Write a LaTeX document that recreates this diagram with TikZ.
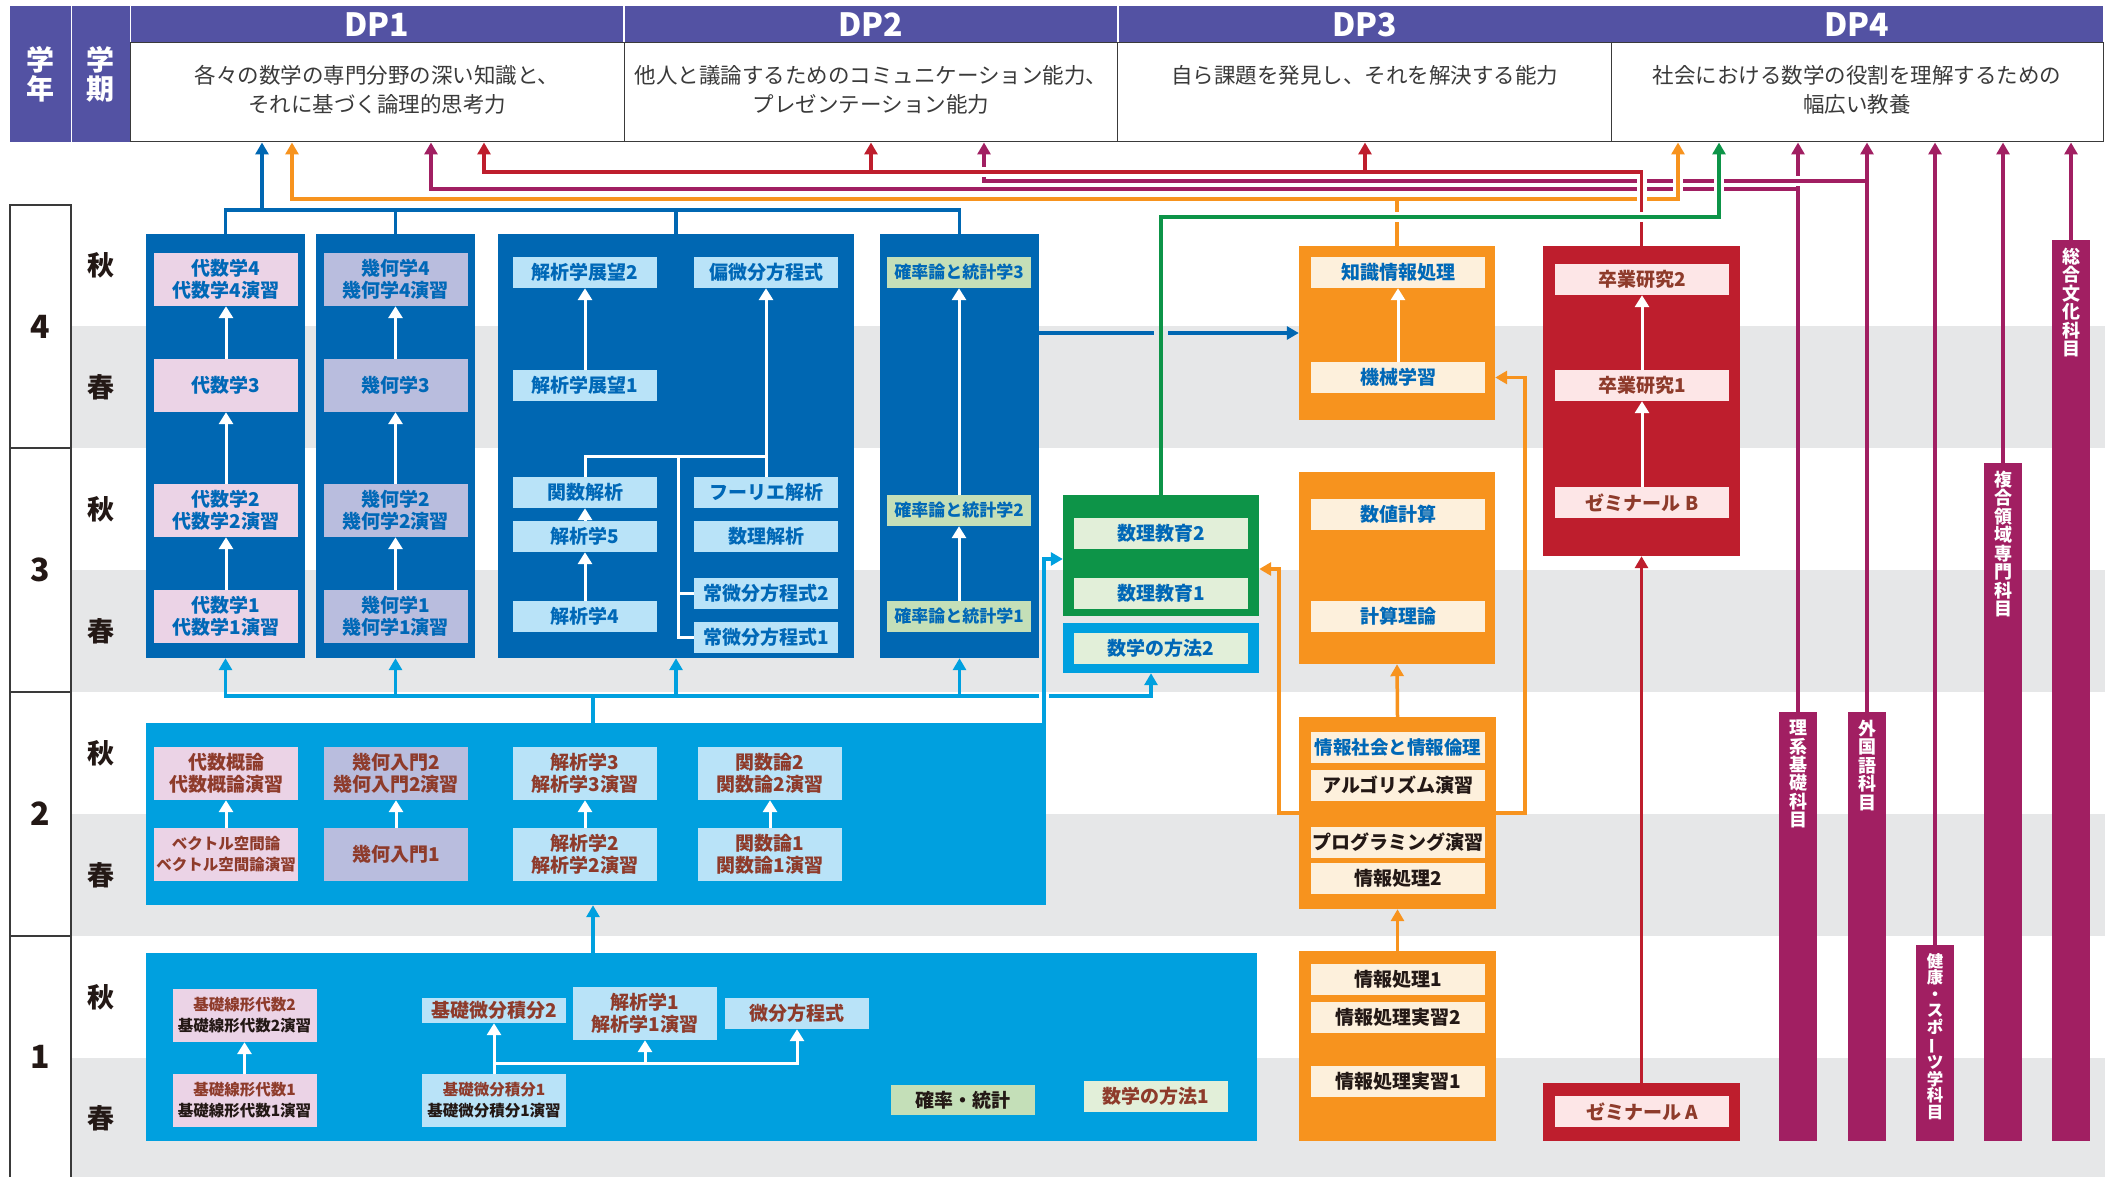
\documentclass[tikz,border=0pt]{standalone}
\usepackage{fontspec}
\setmainfont{Noto Sans CJK JP}
\usepackage{graphicx}
\usetikzlibrary{arrows.meta}

\definecolor{hdr}{HTML}{5352A3}
\definecolor{band}{HTML}{E6E7E8}
\definecolor{dkb}{HTML}{0067B2}
\definecolor{ltb}{HTML}{00A0DF}
\definecolor{grn}{HTML}{0D9448}
\definecolor{org}{HTML}{F7931E}
\definecolor{rdd}{HTML}{BE1E2D}
\definecolor{pur}{HTML}{A11F62}
\definecolor{fpk}{HTML}{EBD3E6}
\definecolor{flv}{HTML}{B9BDDE}
\definecolor{flb}{HTML}{B9E3F8}
\definecolor{fgr}{HTML}{C4DFB8}
\definecolor{fpg}{HTML}{E2EFD9}
\definecolor{fcr}{HTML}{FDF0DC}
\definecolor{frs}{HTML}{FDE6E7}
\definecolor{tbl}{HTML}{0068B7}
\definecolor{tbr}{HTML}{8E3B2B}
\definecolor{tbk}{HTML}{231815}
\definecolor{tgy}{HTML}{3A3A3A}

\begin{document}
\begin{tikzpicture}[x=1pt,y=-1pt,
   >={Triangle[length=12pt,width=13pt]},
   nd/.style={rectangle,inner sep=0pt,minimum width=144pt,minimum height=31pt,
    align=center,font=\bfseries\fontsize{19}{22}\selectfont},
   tall/.style={minimum height=53pt},
   wide/.style={minimum width=174pt},
   small/.style={font=\bfseries\fontsize{15.5}{21}\selectfont},
   pk/.style={nd,fill=fpk},
   lv/.style={nd,fill=flv},
   lb/.style={nd,fill=flb},
   gr/.style={nd,fill=fgr,font=\bfseries\fontsize{17}{22}\selectfont},
   pg/.style={nd,wide,fill=fpg,text=tbl},
   cr/.style={nd,wide,fill=fcr},
   rs/.style={nd,wide,fill=frs,text=tbr},
   cont/.style={rectangle,inner sep=0pt,fill=#1},
   bar/.style={rectangle,inner sep=0pt,minimum width=38pt,fill=pur},
   vtx/.style={inner sep=0pt,align=center,text=white,font=\bfseries\fontsize{18}{18.4}\selectfont},
   wa/.style={draw=white,line width=3pt,-{Triangle[length=12pt,width=14pt]}},
   wl/.style={draw=white,line width=3pt},
   wire/.style={line width=3.5pt,draw=#1},
   bridge/.style={preaction={draw=white,line width=10pt,-}},
   yrline/.style={draw=tgy,line width=1.2pt},
   yr/.style={font=\bfseries\fontsize{32}{32}\selectfont,text=tbk},
   tm/.style={font=\bfseries\fontsize{27}{27}\selectfont,text=tbk},
   hcell/.style={rectangle,inner sep=0pt,minimum height=136pt,fill=hdr,text=white,
    align=center,font=\bfseries\fontsize{28}{29}\selectfont},
   dphd/.style={rectangle,inner sep=0pt,minimum width=492pt,minimum height=37pt,
    fill=hdr,text=white,font=\bfseries\fontsize{32}{32}\selectfont},
   dpds/.style={rectangle,inner sep=0pt,minimum width=494pt,minimum height=99pt,
    draw=tgy,line width=1pt,fill=white,align=center,text=tgy,font=\fontsize{21.5}{29}\selectfont}
    ]

  \useasboundingbox (0,0) rectangle (2112,1177);
  \fill[white] (0,0) rectangle (2112,1177);

  % -- spring bands
  \fill[band] (71,326) rectangle (2105,448);
  \fill[band] (71,570) rectangle (2105,692);
  \fill[band] (71,814) rectangle (2105,936);
  \fill[band] (71,1058) rectangle (2105,1177);

  % -- header
  \node[hcell,minimum width=60.5pt] at (40.25,74) (hy) {学\\年};
  \node[hcell,minimum width=58.5pt] at (100.75,74) (hs) {学\\期};
  \node[dphd] at (377,24.5) (h1) {DP1};
  \node[dphd] at (871,24.5) (h2) {DP2};
  \node[dphd] at (1364.5,24.5) (h3) {DP3};
  \node[dphd] at (1857,24.5) (h4) {DP4};
  \node[dpds,text depth=8pt] at (377,92.5) (d1) {各々の数学の専門分野の深い知識と、\\それに基づく論理的思考力};
  \node[dpds,text depth=8pt] at (871,92.5) (d2) {他人と議論するためのコミュニケーション能力、\\プレゼンテーション能力};
  \node[dpds,text depth=8pt] at (1364.5,92.5) (d3) {自ら課題を発見し、それを解決する能力\\\mbox{}};
  \node[dpds,text depth=8pt,minimum width=492pt] at (1857,92.5) (d4) {社会における数学の役割を理解するための\\幅広い教養};

  % -- year and term column
  \draw[yrline] (10,1177) -- (10,205) -- (71,205) -- (71,1177);
  \draw[yrline] (10,448) -- (71,448);
  \draw[yrline] (10,692) -- (71,692);
  \draw[yrline] (10,936) -- (71,936);
  \node[yr] at (40.5,326.5) (y4) {4};
  \node[yr] at (40.5,570) (y3) {3};
  \node[yr] at (40.5,814) (y2n) {2};
  \node[yr] at (40.5,1057) (y1n) {1};
  \node[tm] at (101,265.5) (s4a) {秋};
  \node[tm] at (101,387.5) (s4s) {春};
  \node[tm] at (101,509.5) (s3a) {秋};
  \node[tm] at (101,631.5) (s3s) {春};
  \node[tm] at (101,753.5) (s2a) {秋};
  \node[tm] at (101,875.5) (s2s) {春};
  \node[tm] at (101,997.5) (s1a) {秋};
  \node[tm] at (101,1118.5) (s1s) {春};

  % -- containers
  \node[cont=dkb,minimum width=159pt,minimum height=424pt] at (225.5,446) (alg) {};
  \node[cont=dkb,minimum width=159pt,minimum height=424pt] at (395.5,446) (geo) {};
  \node[cont=dkb,minimum width=356pt,minimum height=424pt] at (676,446) (ana) {};
  \node[cont=dkb,minimum width=159pt,minimum height=424pt] at (959.5,446) (prb) {};
  \node[cont=ltb,minimum width=900pt,minimum height=182pt] at (596,814) (y2) {};
  \node[cont=ltb,minimum width=1111pt,minimum height=188pt] at (701.5,1047) (y1) {};
  \node[cont=grn,minimum width=196pt,minimum height=121pt] at (1161,555.5) (gbox) {};
  \node[cont=ltb,minimum width=196pt,minimum height=50pt] at (1161,648) (mbox) {};
  \node[cont=org,minimum width=196pt,minimum height=174pt] at (1397,333) (ob1) {};
  \node[cont=org,minimum width=196pt,minimum height=192pt] at (1397,568) (ob2) {};
  \node[cont=org,minimum width=197pt,minimum height=192pt] at (1397.5,813) (ob3) {};
  \node[cont=org,minimum width=197pt,minimum height=190pt] at (1397.5,1046) (ob4) {};
  \node[cont=rdd,minimum width=197pt,minimum height=310pt] at (1641.5,401) (rb1) {};
  \node[cont=rdd,minimum width=197pt,minimum height=58pt] at (1641.5,1112) (rb2) {};

  % -- purple bars
  \node[bar,minimum height=429pt] at (1798,926.5) (b1) {};
  \node[bar,minimum height=429pt] at (1867,926.5) (b2) {};
  \node[bar,minimum height=196pt] at (1935,1043) (b3) {};
  \node[bar,minimum height=678pt] at (2003,802) (b4) {};
  \node[bar,minimum height=901pt] at (2071,690.5) (b5) {};
  \node[vtx,anchor=north] at ([yshift=-8pt]b1.north) (b1t) {理\\系\\基\\礎\\科\\目};
  \node[vtx,anchor=north] at ([yshift=-8pt]b2.north) (b2t) {外\\国\\語\\科\\目};
  \node[vtx,anchor=north,font=\bfseries\fontsize{16.5}{16.6}\selectfont] at ([yshift=-8pt]b3.north) (b3t)
    {健\\康\\・\\ス\\ポ\\\rotatebox[origin=c]{90}{ー}\\ツ\\学\\科\\目};
  \node[vtx,anchor=north,font=\bfseries\fontsize{18}{18.5}\selectfont] at ([yshift=-8pt]b4.north) (b4t)
    {複\\合\\領\\域\\専\\門\\科\\目};
  \node[vtx,anchor=north,font=\bfseries\fontsize{18}{18.5}\selectfont] at ([yshift=-8pt]b5.north) (b5t)
    {総\\合\\文\\化\\科\\目};

  % -- year 3 and 4
  \node[pk,tall,text=tbl] at (226,279.5) (a4) {代数学4\\代数学4演習};
  \node[pk,tall,text=tbl] at (226,385.5) (a3) {代数学3};
  \node[pk,tall,text=tbl] at (226,510.5) (a2) {代数学2\\代数学2演習};
  \node[pk,tall,text=tbl] at (226,616.5) (a1) {代数学1\\代数学1演習};
  \node[lv,tall,text=tbl] at (395.5,279.5) (g4) {幾何学4\\幾何学4演習};
  \node[lv,tall,text=tbl] at (395.5,385.5) (g3) {幾何学3};
  \node[lv,tall,text=tbl] at (395.5,510.5) (g2) {幾何学2\\幾何学2演習};
  \node[lv,tall,text=tbl] at (395.5,616.5) (g1) {幾何学1\\幾何学1演習};
  \node[lb,text=tbl] at (585,272.5) (ex2) {解析学展望2};
  \node[lb,text=tbl] at (585,385.5) (ex1) {解析学展望1};
  \node[lb,text=tbl] at (585,492.5) (fa) {関数解析};
  \node[lb,text=tbl] at (585,536.5) (an5) {解析学5};
  \node[lb,text=tbl] at (585,616.5) (an4) {解析学4};
  \node[lb,text=tbl] at (766,272.5) (pde) {偏微分方程式};
  \node[lb,text=tbl] at (766,492.5) (fou) {フーリエ解析};
  \node[lb,text=tbl] at (766,536.5) (mana) {数理解析};
  \node[lb,text=tbl] at (766,593.5) (ode2) {常微分方程式2};
  \node[lb,text=tbl] at (766,637.5) (ode1) {常微分方程式1};
  \node[gr,text=tbl] at (959,272.5) (p3) {確率論と統計学3};
  \node[gr,text=tbl] at (959,510.5) (p2) {確率論と統計学2};
  \node[gr,text=tbl] at (959,616.5) (p1) {確率論と統計学1};

  % -- green and orange and red
  \node[pg] at (1161,533.5) (me2) {数理教育2};
  \node[pg] at (1161,593.5) (me1) {数理教育1};
  \node[pg] at (1161,648.5) (mm2) {数学の方法2};
  \node[cr,text=tbl] at (1398,272.5) (kip) {知識情報処理};
  \node[cr,text=tbl] at (1398,377.5) (ml) {機械学習};
  \node[cr,text=tbl] at (1398,514.5) (num) {数値計算};
  \node[cr,text=tbl] at (1398,616.5) (cth) {計算理論};
  \node[cr,text=tbl,font=\bfseries\fontsize{18.5}{22}\selectfont] at (1398,747.5) (iso) {情報社会と情報倫理};
  \node[cr,text=tbk] at (1398,785.5) (aex) {アルゴリズム演習};
  \node[cr,text=tbk] at (1398,842) (pex) {プログラミング演習};
  \node[cr,text=tbk] at (1398,878.5) (ip2) {情報処理2};
  \node[cr,text=tbk] at (1398,979.5) (ip1) {情報処理1};
  \node[cr,text=tbk] at (1398,1017.5) (ie2) {情報処理実習2};
  \node[cr,text=tbk] at (1398,1081) (ie1) {情報処理実習1};
  \node[rs] at (1642,279.5) (gr2) {卒業研究2};
  \node[rs] at (1642,385.5) (gr1) {卒業研究1};
  \node[rs] at (1642,502.5) (semb) {ゼミナール B};
  \node[rs] at (1642,1111.5) (sema) {ゼミナール A};

  % -- year 2
  \node[pk,tall,text=tbr] at (226,773.5) (ai) {代数概論\\代数概論演習};
  \node[pk,tall,text=tbr,small] at (226,854.5) (vs) {ベクトル空間論\\ベクトル空間論演習};
  \node[lv,tall,text=tbr] at (396,773.5) (gi2) {幾何入門2\\幾何入門2演習};
  \node[lv,tall,text=tbr] at (396,854.5) (gi1) {幾何入門1};
  \node[lb,tall,text=tbr] at (585,773.5) (an3) {解析学3\\解析学3演習};
  \node[lb,tall,text=tbr] at (585,854.5) (an2) {解析学2\\解析学2演習};
  \node[lb,tall,text=tbr] at (770,773.5) (cf2) {関数論2\\関数論2演習};
  \node[lb,tall,text=tbr] at (770,854.5) (cf1) {関数論1\\関数論1演習};

  % -- year 1
  \node[pk,tall,text=tbr,small] at (244.5,1015.5) (la2) {基礎線形代数2\\\textcolor{tbk}{基礎線形代数2演習}};
  \node[pk,tall,text=tbr,small] at (244.5,1100.5) (la1) {基礎線形代数1\\\textcolor{tbk}{基礎線形代数1演習}};
  \node[lb,minimum height=25pt,text=tbr] at (494,1010.5) (ca2) {基礎微分積分2};
  \node[lb,tall,text=tbr] at (645,1013.5) (an1) {解析学1\\解析学1演習};
  \node[lb,text=tbr] at (797,1013.5) (de) {微分方程式};
  \node[lb,tall,text=tbr,small] at (494,1100.5) (ca1) {基礎微分積分1\\\textcolor{tbk}{基礎微分積分1演習}};
  \node[nd,fill=fgr,minimum height=30pt,text=tbk] at (962.5,1100) (ps) {確率・統計};
  \node[nd,fill=fpg,text=tbr] at (1155.5,1096.5) (mm1) {数学の方法1};

  % -- white arrows in boxes
  \draw[wa] (a1.north) -- (a2.south);
  \draw[wa] (a2.north) -- (a3.south);
  \draw[wa] (a3.north) -- (a4.south);
  \draw[wa] (g1.north) -- (g2.south);
  \draw[wa] (g2.north) -- (g3.south);
  \draw[wa] (g3.north) -- (g4.south);
  \draw[wa] (ex1.north) -- (ex2.south);
  \draw[wa] (an4.north) -- (an5.south);
  \draw[wa] (an5.north) -- (fa.south);
  \coordinate (tk) at (766,456);
  \coordinate (tj) at (678,456);
  \draw[wa] (fa.north) |- (tk) -- (pde.south);
  \draw[wl] (fou.north) -- (tk);
  \draw[wl] (tj) |- (ode1.west);
  \draw[wl] (tj |- ode2.west) -- (ode2.west);
  \draw[wa] (p1.north) -- (p2.south);
  \draw[wa] (p2.north) -- (p3.south);
  \draw[wa] (ml.north) -- (kip.south);
  \draw[wa] (semb.north) -- (gr1.south);
  \draw[wa] (gr1.north) -- (gr2.south);
  \draw[wa] (vs.north) -- (ai.south);
  \draw[wa] (gi1.north) -- (gi2.south);
  \draw[wa] (an2.north) -- (an3.south);
  \draw[wa] (cf1.north) -- (cf2.south);
  \draw[wa] (la1.north) -- (la2.south);
  \draw[wa] (ca1.north) -- (ca2.south);
  \coordinate (cb) at (494,1063);
  \draw[wa] (cb) -| (de.south);
  \draw[wa] (an1.south |- cb) -- (an1.south);

  % -- light blue links
  \coordinate (lc) at (593,696);
  \coordinate (lx) at (1044,696);
  \draw[wire=ltb] (lc |- y2.north) -- (lc);
  \draw[wire=ltb,->] ([xshift=-5pt]lx) -| (alg.south);
  \draw[wire=ltb,->] ([xshift=5pt]lx) -| ([xshift=-10pt]mbox.south);
  \draw[wire=ltb,->] (geo.south |- lc) -- (geo.south);
  \draw[wire=ltb,->] (ana.south |- lc) -- (ana.south);
  \draw[wire=ltb,->] (prb.south |- lc) -- (prb.south);
  \draw[wire=ltb,->] (lx |- y2.north) |- ([yshift=-3.5pt]gbox.west);
  \draw[wire=ltb,->] (lc |- y1.north) -- (lc |- y2.south);

  % -- orange and red links below
  \draw[wire=org,->] (ob3.north) -- (ob2.south);
  \draw[wire=org,->] (ob4.north) -- (ob3.south);
  \draw[wire=org,->] (ob3.east) -- ++(29,0) |- (ob1.east |- ml);
  \draw[wire=org,->] (ob3.west) -- ++(-20,0) |- ([yshift=-13.5pt]gbox.east);
  \draw[wire=rdd,->] (rb2.north) -- (rb1.south);

  % -- blue to machine learning
  \draw[wire=dkb] (prb.east |- ob1.west) -- ([xshift=-7pt]gbox.north |- ob1.west);
  \draw[wire=dkb,->] ([xshift=7pt]gbox.north |- ob1.west) -- (ob1.west);

  % -- links up to DP
  \coordinate (pa) at (431,189);
  \coordinate (pb) at (984,181);
  \draw[wire=pur,->] (b1.north) -- (b1.north |- d4.south);
  \draw[wire=pur,->] (b1.north |- pa) -- (pa) -- (pa |- d1.south);
  \draw[wire=pur,bridge,->] (b2.north |- pb) -- (pb) -- (pb |- d2.south);
  \draw[wire=pur,->] (b2.north) -- (b2.north |- d4.south);
  \draw[wire=pur,->] (b3.north) -- (b3.north |- d4.south);
  \draw[wire=pur,->] (b4.north) -- (b4.north |- d4.south);
  \draw[wire=pur,->] (b5.north) -- (b5.north |- d4.south);

  \coordinate (ol) at (292,199);
  \coordinate (orr) at (1678,199);
  \draw[wire=org,bridge,<->] (ol |- d1.south) -- (ol) -- (orr) -- (orr |- d4.south);
  \draw[wire=org] (ob1.north) -- (ob1.north |- ol);

  \coordinate (rl) at (484,172);
  \coordinate (r2) at (871,172);
  \coordinate (r3) at (1365,172);
  \draw[wire=rdd,bridge,->] (rb1.north) |- (rl) -- (rl |- d1.south);
  \draw[wire=rdd,->] (r2) -- (r2 |- d2.south);
  \draw[wire=rdd,->] (r3) -- (r3 |- d3.south);

  \coordinate (gk) at (1161,300);
  \coordinate (gt) at (1719,217);
  \draw[wire=grn] (gbox.north) -- (gk);
  \draw[wire=grn,bridge,->] (gk) |- (gt) -- (gt |- d4.south);

  \coordinate (bt) at (262,210);
  \draw[wire=dkb] (alg.north) |- (prb.north |- bt) -- (prb.north);
  \draw[wire=dkb] (geo.north) -- (geo.north |- bt);
  \draw[wire=dkb] (ana.north) -- (ana.north |- bt);
  \draw[wire=dkb,->] (bt) -- (bt |- d1.south);

\end{tikzpicture}
\end{document}
